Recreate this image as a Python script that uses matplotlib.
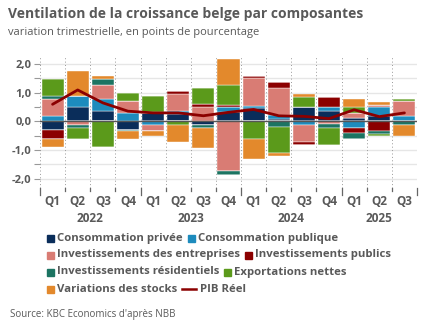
import matplotlib.pyplot as plt
import matplotlib.transforms as mtransforms
from matplotlib.patches import Rectangle
from matplotlib.lines import Line2D
import numpy as np

plt.rcParams['font.family'] = ['Open Sans', 'DejaVu Sans']

# data
quarters = ['Q1', 'Q2', 'Q3', 'Q4', 'Q1', 'Q2', 'Q3', 'Q4', 'Q1', 'Q2', 'Q3', 'Q4', 'Q1', 'Q2', 'Q3']
years = ['2022', '2023', '2024', '2025']
year_centers = [1.5, 5.5, 9.5, 13.0]

conso_privee = [-0.30, 0.50, 0.38, -0.30, 0.28, 0.25, -0.12, 0.33, 0.47, 0.10, 0.49, 0.37, 0.12, 0.20, 0.00]
conso_publique = [0.20, 0.40, 0.40, 0.30, -0.12, 0.12, 0.00, 0.16, 0.06, 0.12, -0.12, 0.12, -0.21, 0.29, 0.20]
invest_entreprises = [0.58, -0.12, 0.50, 0.40, -0.20, 0.60, 0.50, -1.71, 0.99, 0.95, -0.58, -0.10, 0.17, 0.09, 0.50]
invest_publics = [-0.30, 0.00, 0.00, 0.00, 0.00, 0.10, 0.10, 0.10, 0.08, 0.20, -0.12, 0.38, -0.20, -0.33, 0.00]
invest_residentiels = [0.10, -0.10, 0.20, -0.03, 0.05, 0.00, -0.10, -0.17, 0.00, -0.20, 0.00, -0.12, -0.20, -0.09, -0.12]
exportations_nettes = [0.60, -0.40, -0.90, 0.30, 0.55, -0.12, 0.58, 0.70, -0.62, -0.90, 0.38, -0.60, 0.20, -0.08, 0.08]
variations_stocks = [-0.30, 0.85, 0.10, -0.28, -0.18, -0.58, -0.70, 0.90, -0.69, -0.10, 0.09, 0.00, 0.29, 0.09, -0.38]
pib_reel = [0.60, 1.10, 0.65, 0.36, 0.30, 0.30, 0.20, 0.32, 0.42, 0.20, 0.18, 0.10, 0.41, 0.17, 0.30]

series = [
    ('Consommation privée', conso_privee, '#0a2d5a'),
    ('Consommation publique', conso_publique, '#1d8bbd'),
    ('Investissements des entreprises', invest_entreprises, '#d97c74'),
    ('Investissements publics', invest_publics, '#8b0000'),
    ('Investissements résidentiels', invest_residentiels, '#1c7462'),
    ('Exportations nettes', exportations_nettes, '#5b9a1b'),
    ('Variations des stocks', variations_stocks, '#e3892c'),
]

W, H = 432, 334
fig = plt.figure(figsize=(W / 100, H / 100), dpi=100)
grey = '#595959'

ax_l, ax_r, ax_t, ax_b = 40, 417, 57, 188
ax = fig.add_axes([ax_l / W, 1 - ax_b / H, (ax_r - ax_l) / W, (ax_b - ax_t) / H])

x = np.arange(len(quarters))
pos_base = np.zeros(len(x))
neg_base = np.zeros(len(x))
for name, vals, col in series:
    v = np.array(vals)
    p = np.where(v > 0, v, 0)
    n = np.where(v < 0, v, 0)
    ax.bar(x, p, 0.88, bottom=pos_base, color=col, edgecolor='#ffffff', linewidth=0.3, zorder=3)
    ax.bar(x, n, 0.88, bottom=neg_base, color=col, edgecolor='#ffffff', linewidth=0.3, zorder=3)
    pos_base += p
    neg_base += n

ax.plot(x, pib_reel, color='#8b0000', lw=2, zorder=5, solid_capstyle='round')

ax.set_xlim(-0.5, len(x) - 0.5)
ax.set_ylim(-2.32, 2.25)

# grid
for yv in np.arange(-2.0, 2.01, 0.5):
    ax.axhline(yv, color='#e6e6e6', lw=1, zorder=1)
ax.axhline(0, color='#555555', lw=1, zorder=4)
for b in np.arange(-0.5, len(x), 1.0):
    ax.axvline(b, color='#999999', lw=0.7, ls=(0, (1, 2.5)), zorder=2)

for s in ax.spines.values():
    s.set_visible(False)

ax.set_yticks(np.arange(-2.0, 2.01, 0.5))
ax.set_yticklabels(['-2,0', '', '-1,0', '', '0,0', '', '1,0', '', '2,0'])
ax.tick_params(axis='y', length=4, width=0.8, color='#999999', labelsize=8, labelcolor=grey, pad=2)
for lab in ax.get_yticklabels():
    lab.set_fontweight('bold')

ax.set_xticks([])
trans = mtransforms.blended_transform_factory(ax.transData, ax.transAxes)
for b in np.arange(-0.5, len(x), 1.0):
    big = b in (-0.5, 3.5, 7.5, 11.5, 14.5)
    ax.plot([b, b], [0, -0.05 if big else -0.025], transform=trans, color='#666666',
            lw=0.9, clip_on=False)
for i, q in enumerate(quarters):
    ax.text(i, -0.055, q, transform=trans, ha='center', va='top', fontsize=8.5,
            fontweight='bold', color=grey)
for xc, yr in zip(year_centers, years):
    ax.text(xc, -0.18, yr, transform=trans, ha='center', va='top', fontsize=8.5,
            fontweight='bold', color=grey)

# titles
fig.text(8 / W, 1 - 14 / H, 'Ventilation de la croissance belge par composantes',
         fontsize=10, fontweight='bold', color=grey, va='center')
fig.text(8 / W, 1 - 33 / H, 'variation trimestrielle, en points de pourcentage',
         fontsize=8, color=grey, va='center')

# legend, laid out as flowing rows
rows = [[0, 1], [2, 3], [4, 5], [6, 'pib']]
row_y = [238, 255, 272, 289]
renderer = fig.canvas.get_renderer()
for row, yp in zip(rows, row_y):
    xp = 47
    for item in row:
        if item == 'pib':
            fig.add_artist(Line2D([xp / W, (xp + 14) / W], [1 - yp / H] * 2, color='#8b0000', lw=1.8))
            xp += 18
            label = 'PIB Réel'
        else:
            name, _, col = series[item]
            fig.add_artist(Rectangle((xp / W, 1 - (yp + 3.5) / H), 7 / W, 7 / H, color=col))
            xp += 10
            label = name
        t = fig.text(xp / W, 1 - yp / H, label, fontsize=8.2, fontweight='bold', color=grey, va='center')
        bb = t.get_window_extent(renderer)
        xp += bb.width + 5

fig.text(10 / W, 1 - 315 / H, "Source: KBC Economics d'après NBB", fontsize=7, color=grey, va='center')

fig.savefig('out.png', dpi=100)
